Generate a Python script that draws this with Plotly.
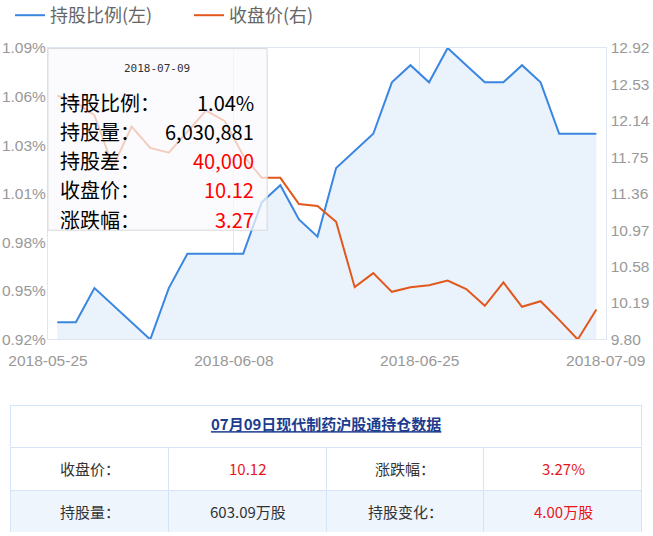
import numpy as np
import plotly.graph_objects as go

# trading days shown in the chart
dates = ['2018-05-28', '2018-05-29', '2018-05-30', '2018-05-31', '2018-06-01',
         '2018-06-04', '2018-06-05', '2018-06-06', '2018-06-07', '2018-06-08',
         '2018-06-11', '2018-06-12', '2018-06-13', '2018-06-14', '2018-06-15',
         '2018-06-19', '2018-06-20', '2018-06-21', '2018-06-22', '2018-06-25',
         '2018-06-26', '2018-06-27', '2018-06-28', '2018-06-29', '2018-07-02',
         '2018-07-03', '2018-07-04', '2018-07-05', '2018-07-06', '2018-07-09']
# 持股比例 (%)
ratio = [0.93, 0.93, 0.95, 0.94, 0.93, 0.92, 0.95, 0.97, 0.97, 0.97,
         0.97, 1.00, 1.01, 0.99, 0.98, 1.02, 1.03, 1.04, 1.07, 1.08,
         1.07, 1.09, 1.08, 1.07, 1.07, 1.08, 1.07, 1.04, 1.04, 1.04]
# 收盘价
close = [12.41, 12.34, 12.20, 11.65, 12.08, 11.85, 11.80, 12.03, 12.25, 12.14,
         11.77, 11.53, 11.53, 11.25, 11.23, 11.06, 10.36, 10.51, 10.31, 10.36,
         10.38, 10.43, 10.34, 10.16, 10.41, 10.15, 10.21, 10.01, 9.80, 10.12]

x_tick_labels = ['2018-05-25', '2018-06-08', '2018-06-25', '2018-07-09']
left_tick_labels = ['0.92%', '0.95%', '0.98%', '1.01%', '1.03%', '1.06%', '1.09%']
right_tick_labels = ['9.80', '10.19', '10.58', '10.97', '11.36', '11.75', '12.14', '12.53', '12.92']

# latest day (tooltip / table)
last_date = '2018-07-09'
hold_shares = 6030881
hold_diff = 40000
pct_change = 3.27

stock_name = '现代制药'

BLUE = '#3a86e0'
ORANGE = '#e2581c'
FILL = '#eaf2fc'
RED = '#ff0000'
BORDER = '#e0e6f1'
CJK = 'Noto Sans CJK SC'

x = list(range(len(dates)))

fig = go.Figure()
fig.add_trace(go.Scatter(x=x, y=ratio, mode='lines', fill='tozeroy', fillcolor=FILL,
                         line=dict(width=0, color=BLUE), showlegend=False, hoverinfo='skip'))
fig.add_trace(go.Scatter(x=x, y=ratio, mode='lines', name='持股比例(左)',
                         line=dict(color=BLUE, width=2), customdata=dates))
fig.add_trace(go.Scatter(x=x, y=close, mode='lines', name='收盘价(右)', yaxis='y2',
                         line=dict(color=ORANGE, width=2), customdata=dates))

# bottom summary table
t_labels1 = ['收盘价：', '持股量：']
t_values1 = [f'{close[-1]:.2f}', f'{hold_shares / 1e4:.2f}万股']
t_labels2 = ['涨跌幅：', '持股变化：']
t_values2 = [f'{pct_change:.2f}%', f'{hold_diff / 1e4:.2f}万股']
title = last_date[5:7] + '月' + last_date[8:10] + '日' + stock_name + '沪股通持仓数据'

TBL_LINE = '#d6e4f8'
dark = '#333333'
tred = '#e8161c'

FIG_H, MT, MB = 536, 47.5, 3
PAPER_H = FIG_H - MT - MB
ROW_H = 43
tbl_x = [0.001, 0.999]
tbl_top = 2 * ROW_H / PAPER_H

fig.add_trace(go.Table(
    domain=dict(x=tbl_x, y=[tbl_top, tbl_top + 42 / PAPER_H]),
    columnwidth=[1],
    header=dict(values=['<b><span style="text-decoration:underline">' + title + '</span></b>'],
                height=42, align='center', fill_color='#ffffff',
                line=dict(color=TBL_LINE, width=1),
                font=dict(family=CJK, size=15, color='#1c3c8e')),
    cells=dict(values=[[]], height=42),
))
# grid + fills of the two data rows; their text is placed as centred annotations
# (table text sits at the top of a cell)
cols = [t_labels1, t_values1, t_labels2, t_values2]
col_colors = [[dark, dark], [tred, dark], [dark, dark], [tred, tred]]
fig.add_trace(go.Table(
    domain=dict(x=tbl_x, y=[0.0, tbl_top]),
    columnwidth=[1] * len(cols),
    header=dict(values=[''] * len(cols), height=ROW_H, fill_color='#ffffff',
                line=dict(color=TBL_LINE, width=1)),
    cells=dict(values=[[''] for _ in cols], height=ROW_H, fill_color='#eef5fd',
               line=dict(color=TBL_LINE, width=1)),
))
col_w = (tbl_x[1] - tbl_x[0]) / len(cols)
for ci, (col, ccol) in enumerate(zip(cols, col_colors)):
    for ri, (txt, c) in enumerate(zip(col, ccol)):
        fig.add_annotation(xref='paper', yref='paper',
                           x=tbl_x[0] + (ci + 0.5) * col_w,
                           y=tbl_top - (ri + 0.5) * ROW_H / PAPER_H,
                           text=txt, showarrow=False, xanchor='center', yanchor='middle',
                           font=dict(family=CJK, size=15, color=c))

# tooltip box for the latest day
tip_labels = ['持股比例：', '持股量：', '持股差：', '收盘价：', '涨跌幅：']
tip_values = [f'{ratio[-1]:.2f}%', f'{hold_shares:,}', f'{hold_diff:,}',
              f'{close[-1]:.2f}', f'{pct_change:.2f}']
tip_colors = ['#000000', '#000000', RED, RED, RED]

fig.add_shape(type='rect', xref='x domain', yref='y domain', x0=0, x1=0.393, y0=0.375, y1=0.998,
              fillcolor='rgba(250,250,253,0.72)', line=dict(color='#d9d9d9', width=1), layer='above')
fig.add_annotation(xref='x domain', yref='y domain', x=0.196, y=0.93, text=last_date,
                   xanchor='center', yanchor='middle', showarrow=False,
                   font=dict(family='DejaVu Sans Mono', size=11, color='#333333'))
for i, (lab, val, col) in enumerate(zip(tip_labels, tip_values, tip_colors)):
    yy = 0.813 - i * 0.1
    fig.add_annotation(xref='x domain', yref='y domain', x=0.018, y=yy, text=lab,
                       xanchor='left', yanchor='middle', showarrow=False,
                       font=dict(family=CJK, size=20, color='#000000'))
    fig.add_annotation(xref='x domain', yref='y domain', x=0.373, y=yy, text=val,
                       xanchor='right', yanchor='middle', showarrow=False,
                       font=dict(family=CJK, size=20, color=col))

tick_font = dict(family='Liberation Sans', size=15.5, color='#999999')
fig.update_layout(
    width=653, height=FIG_H,
    margin=dict(l=10, r=10, t=MT, b=MB, autoexpand=False),
    paper_bgcolor='white', plot_bgcolor='white',
    showlegend=True,
    legend=dict(orientation='h', x=0.0, xanchor='left', y=1.067, yanchor='middle',
                entrywidth=134, font=dict(family=CJK, size=18, color='#666666'),
                bgcolor='rgba(0,0,0,0)'),
    xaxis=dict(domain=[0.06, 0.941], range=[-0.5, len(dates) - 0.5], automargin=False,
               tickvals=np.arange(-0.5, len(dates), 10), ticktext=x_tick_labels,
               showgrid=True, gridcolor=BORDER, zeroline=False,
               showline=True, linecolor=BORDER, mirror=True, ticks='',
               ticklabelstandoff=7, tickfont=tick_font),
    yaxis=dict(domain=[0.399, 1.0], range=[0.92, 1.09], automargin=False,
               tickvals=np.linspace(0.92, 1.09, len(left_tick_labels)), ticktext=left_tick_labels,
               showgrid=False, zeroline=False, showline=True, linecolor=BORDER, mirror=True,
               ticks='', ticklabelstandoff=-2, tickfont=tick_font),
    yaxis2=dict(overlaying='y', side='right', range=[9.80, 12.92], automargin=False,
                tickvals=np.linspace(9.80, 12.92, len(right_tick_labels)), ticktext=right_tick_labels,
                showgrid=False, zeroline=False, showline=False, ticks='',
                ticklabelstandoff=4, tickfont=tick_font),
)

fig.write_html('out.html', config={'displayModeBar': False},
               post_script="document.body.style.margin='0';")
